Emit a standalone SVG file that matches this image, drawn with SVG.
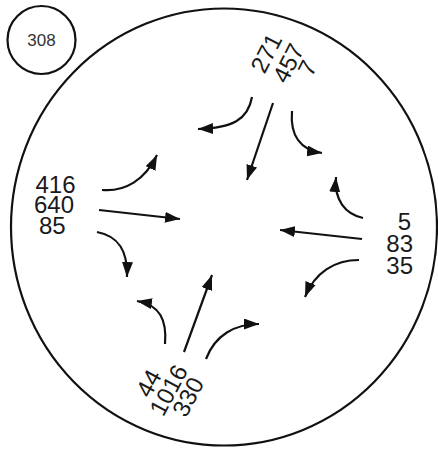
<svg xmlns="http://www.w3.org/2000/svg" width="438" height="451" viewBox="0 0 438 451">
<style>
.ring{fill:none;stroke:#111;stroke-width:2.2}
.lbl{font-family:"Liberation Sans",Arial,sans-serif;font-size:24px;fill:#1a1a1a}
.c{stroke:#111;stroke-width:2.2;fill:none;marker-end:url(#ah)}
</style>
<defs>
<marker id="ah" markerUnits="userSpaceOnUse" markerWidth="16" markerHeight="11" refX="15" refY="5.5" orient="auto">
<path d="M0,0 L15,5.5 L0,11 Z" fill="#111"/>
</marker>
</defs>
<rect width="438" height="451" fill="#fff"/>
<g id="node-308">
<circle class="ring" cx="41.5" cy="40" r="34"/>
<text x="41.5" y="46" text-anchor="middle" style="font-family:'Liberation Sans',Arial,sans-serif;font-size:17px;fill:#333">308</text>
</g>
<g id="node-intersection">
<ellipse class="ring" cx="224" cy="227" rx="213" ry="218.5"/>
</g>
<g id="node-north">
<text class="lbl" transform="translate(266,53) rotate(-63)" y="8.6" text-anchor="middle">271</text>
<text class="lbl" transform="translate(288,63) rotate(-63)" y="8.6" text-anchor="middle">457</text>
<text class="lbl" transform="translate(307,68) rotate(-63)" y="8.6" text-anchor="middle">7</text>
</g>
<g id="node-west">
<text class="lbl" x="35.5" y="193">416</text>
<text class="lbl" x="34" y="213">640</text>
<text class="lbl" x="39" y="234">85</text>
</g>
<g id="node-east">
<text class="lbl" x="411" y="230" text-anchor="end">5</text>
<text class="lbl" x="413" y="251.5" text-anchor="end">83</text>
<text class="lbl" x="413" y="274" text-anchor="end">35</text>
</g>
<g id="node-south">
<text class="lbl" transform="translate(148.3,383.3) rotate(-62)" y="8.6" text-anchor="middle">44</text>
<text class="lbl" transform="translate(168.3,390) rotate(-62)" y="8.6" text-anchor="middle">1016</text>
<text class="lbl" transform="translate(187.7,396.7) rotate(-62)" y="8.6" text-anchor="middle">330</text>
</g>
<g id="connectors">
<path class="c" d="M252,97 C248,120 232,128 198,129"/>
<path class="c" d="M273,103 L247,180"/>
<path class="c" d="M292,111 C290,135 300,150 322,153"/>
<path class="c" d="M102,190 C125,192 145,180 157,155"/>
<path class="c" d="M99,210 L180,219"/>
<path class="c" d="M97,232 C118,236 128,250 127,277"/>
<path class="c" d="M363,218 C345,214 334,200 336,177"/>
<path class="c" d="M362,239 L280,230"/>
<path class="c" d="M359,260 C335,260 315,272 305,297"/>
<path class="c" d="M165,344 C167,320 160,305 137,301"/>
<path class="c" d="M184,352 L212,275"/>
<path class="c" d="M206,359 C215,335 235,324 259,324"/>
</g>
</svg>
